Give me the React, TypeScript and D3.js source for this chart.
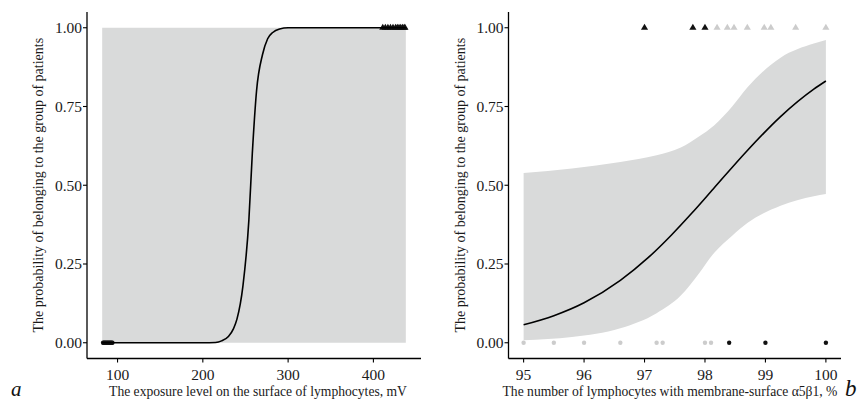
import React from "react";
import * as d3 from "d3";

// panel a: exposure level (mV)
const leftCurveX = [82, 200, 215, 222, 230, 236, 240, 247, 254, 258, 263, 270, 276, 282, 290, 300, 438];
const leftCurveP = [0, 0, 0.001, 0.006, 0.02, 0.045, 0.075, 0.18, 0.39, 0.6, 0.8, 0.915, 0.965, 0.985, 0.996, 1, 1];
const leftBandX = [82, 438];
const leftBandLo = [0, 0];
const leftBandHi = [1, 1];
const leftZeroDark = [83, 84, 85, 86, 87, 88, 89, 90, 91, 92, 93, 94];
const leftOneDark = [411, 414, 417, 420, 423, 426, 428, 430, 432, 434, 436, 437];
const leftXTicks = [100, 200, 300, 400];

// panel b: lymphocytes with a5b1 (%)
const rightCurveX = [95, 95.5, 96, 96.6, 97.06, 97.45, 97.78, 98.14, 98.69, 99.25, 99.8, 100];
const rightCurveP = [0.057, 0.086, 0.127, 0.198, 0.27, 0.343, 0.411, 0.489, 0.608, 0.718, 0.805, 0.831];
const rightBandX = [95, 95.8, 96.6, 97.2, 97.6, 97.9, 98.15, 98.45, 98.7, 99.25, 99.8, 100];
const rightBandHi = [0.539, 0.553, 0.574, 0.595, 0.62, 0.655, 0.69, 0.75, 0.81, 0.905, 0.95, 0.961];
const rightBandLo = [0.008, 0.018, 0.046, 0.094, 0.15, 0.22, 0.285, 0.34, 0.38, 0.435, 0.465, 0.472];
const rightZeroLight = [95, 95.5, 96, 96.6, 97.2, 97.3, 98.0, 98.1];
const rightZeroDark = [98.4, 99, 100];
const rightOneDark = [97, 97.8, 98.0];
const rightOneLight = [98.2, 98.37, 98.48, 98.7, 98.98, 99.09, 99.5, 100];
const rightXTicks = [95, 96, 97, 98, 99, 100];

const yTicks = [0, 0.25, 0.5, 0.75, 1];
const yTitle = "The probability of belonging to the group of patients";

const FONT = "'Liberation Serif', 'DejaVu Serif', serif";
const BAND = "#d9dada";
const TEXT = "#1a1a1a";

type PanelProps = {
  x0: number;
  x1: number;
  domain: [number, number];
  xTicks: number[];
  xTitle: string;
  titleCx: number;
  curveX: number[];
  curveP: number[];
  bandX: number[];
  bandLo: number[];
  bandHi: number[];
  zeroLight: number[];
  zeroDark: number[];
  oneLight: number[];
  oneDark: number[];
};

const Panel = (p: PanelProps) => {
  const top = 12;
  const bottom = 358.5;
  const pad = (p.domain[1] - p.domain[0]) * 0.05;
  const x = d3.scaleLinear().domain([p.domain[0] - pad, p.domain[1] + pad]).range([p.x0, p.x1]);
  const y = d3.scaleLinear().domain([-0.05, 1.05]).range([bottom, top]);

  const band = d3
    .area<number>()
    .x((_, i) => x(p.bandX[i]))
    .y0((_, i) => y(p.bandLo[i]))
    .y1((_, i) => y(p.bandHi[i]))
    .curve(d3.curveMonotoneX)(p.bandX);

  const line = d3
    .line<number>()
    .x((_, i) => x(p.curveX[i]))
    .y((_, i) => y(p.curveP[i]))
    .curve(d3.curveMonotoneX)(p.curveX);

  const tri = d3.symbol(d3.symbolTriangle, 22)();
  const midY = (top + bottom) / 2;

  return (
    <g>
      <path d={band ?? ""} fill={BAND} />
      {p.zeroLight.map((v, i) => (
        <circle key={"zl" + i} cx={x(v)} cy={y(0)} r={2.2} fill="#cccccc" />
      ))}
      {p.zeroDark.map((v, i) => (
        <circle key={"zd" + i} cx={x(v)} cy={y(0)} r={2.2} fill="#111" />
      ))}
      {p.oneLight.map((v, i) => (
        <path key={"ol" + i} d={tri ?? ""} transform={`translate(${x(v)},${y(1)})`} fill="#cccccc" />
      ))}
      {p.oneDark.map((v, i) => (
        <path key={"od" + i} d={tri ?? ""} transform={`translate(${x(v)},${y(1)})`} fill="#111" />
      ))}
      <path d={line ?? ""} fill="none" stroke="#000" strokeWidth={1.6} />

      {/* axes */}
      <line x1={p.x0} x2={p.x0} y1={top} y2={bottom} stroke="#000" strokeWidth={1.3} />
      <line x1={p.x0} x2={p.x1} y1={bottom} y2={bottom} stroke="#000" strokeWidth={1.3} />
      {yTicks.map((t) => (
        <g key={"y" + t}>
          <line x1={p.x0 - 4} x2={p.x0} y1={y(t)} y2={y(t)} stroke="#000" strokeWidth={1.1} />
          <text x={p.x0 - 5} y={y(t)} dy="0.35em" textAnchor="end" fontSize={15.5} fill={TEXT}>
            {d3.format(".2f")(t)}
          </text>
        </g>
      ))}
      {p.xTicks.map((t) => (
        <g key={"x" + t}>
          <line x1={x(t)} x2={x(t)} y1={bottom} y2={bottom + 4} stroke="#000" strokeWidth={1.1} />
          <text x={x(t)} y={380} textAnchor="middle" fontSize={15.5} fill={TEXT}>
            {t}
          </text>
        </g>
      ))}
      <text x={p.titleCx} y={396} textAnchor="middle" fontSize={13.6} fill={TEXT}>
        {p.xTitle}
      </text>
      <text
        transform={`translate(${p.x0 - 44},${midY}) rotate(-90)`}
        textAnchor="middle"
        fontSize={14}
        fill={TEXT}
      >
        {yTitle}
      </text>
    </g>
  );
};

export default function App() {
  return (
    <svg
      width={860}
      height={403}
      style={{ position: "absolute", left: 0, top: 0, background: "#fff", fontFamily: FONT }}
    >
      <Panel
        x0={87}
        x1={421}
        domain={[82, 438]}
        xTicks={leftXTicks}
        xTitle="The exposure level on the surface of lymphocytes, mV"
        titleCx={258}
        curveX={leftCurveX}
        curveP={leftCurveP}
        bandX={leftBandX}
        bandLo={leftBandLo}
        bandHi={leftBandHi}
        zeroLight={[]}
        zeroDark={leftZeroDark}
        oneLight={[]}
        oneDark={leftOneDark}
      />
      <Panel
        x0={508.5}
        x1={841}
        domain={[95, 100]}
        xTicks={rightXTicks}
        xTitle="The number of lymphocytes with membrane-surface α5β1, %"
        titleCx={670}
        curveX={rightCurveX}
        curveP={rightCurveP}
        bandX={rightBandX}
        bandLo={rightBandLo}
        bandHi={rightBandHi}
        zeroLight={rightZeroLight}
        zeroDark={rightZeroDark}
        oneLight={rightOneLight}
        oneDark={rightOneDark}
      />
      <text x={11} y={396} fontSize={21} fontStyle="italic" fill="#111">
        a
      </text>
      <text x={845} y={396} fontSize={23} fontStyle="italic" fill="#111">
        b
      </text>
    </svg>
  );
}
